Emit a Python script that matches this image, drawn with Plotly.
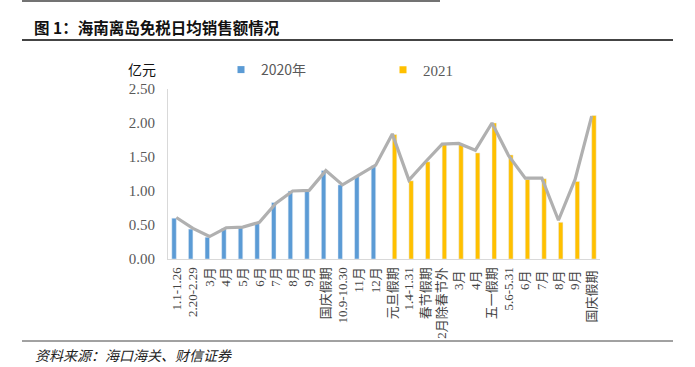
import plotly.graph_objects as go

categories = ["1.1-1.26", "2.20-2.29", "3月", "4月", "5月", "6月", "7月", "8月", "9月",
              "国庆假期", "10.9-10.30", "11月", "12月",
              "元旦假期", "1.4-1.31", "春节假期", "2月除春节外", "3月 ", "4月 ", "五一假期",
              "5.6-5.31", "6月 ", "7月 ", "8月 ", "9月 ", "国庆假期 "]
values_2020 = [0.60, 0.44, 0.32, 0.45, 0.47, 0.54, 0.83, 1.00, 1.00, 1.30, 1.09, 1.22, 1.37]
values_2021 = [1.83, 1.15, 1.43, 1.69, 1.69, 1.56, 2.00, 1.53, 1.17, 1.18, 0.54, 1.14, 2.11]
line_values = [0.61, 0.45, 0.33, 0.46, 0.47, 0.54, 0.82, 1.00, 1.01, 1.30, 1.09, 1.23, 1.38,
               1.84, 1.16, 1.43, 1.69, 1.70, 1.60, 2.00, 1.52, 1.19, 1.19, 0.57, 1.17, 2.10]

n20 = len(values_2020)
y20 = values_2020 + [None] * (len(categories) - n20)
y21 = [None] * n20 + values_2021

W, H = 695, 367
L, R, T, B = 168, 600, 89, 259
pw, ph = R - L, B - T
def px(x): return (x - L) / pw
def py(y): return (B - y) / ph

blue = "#5B9BD5"
gold = "#FFC000"
serif = "Liberation Serif, Noto Sans CJK SC, serif"
cjk = "Noto Sans CJK SC, sans-serif"

fig = go.Figure()
fig.add_trace(go.Bar(x=categories, y=y20, marker_color=blue, showlegend=False, name="2020年"))
fig.add_trace(go.Bar(x=categories, y=y21, marker_color=gold, showlegend=False, name="2021"))
fig.add_trace(go.Scatter(x=categories, y=line_values, mode="lines",
                         line=dict(color="#B0B0B0", width=3.2), showlegend=False))
# legend entries
fig.add_trace(go.Scatter(x=[None], y=[None], mode="markers", name="2020年",
                         marker=dict(symbol="square", size=7, color=blue), legend="legend"))
fig.add_trace(go.Scatter(x=[None], y=[None], mode="markers", name="2021",
                         marker=dict(symbol="square", size=7, color=gold), legend="legend2"))

shapes = [
    dict(type="line", xref="paper", yref="paper", x0=px(22), x1=px(440), y0=py(1), y1=py(1),
         line=dict(color="#444", width=1.5)),
    dict(type="line", xref="paper", yref="paper", x0=px(22), x1=px(673), y0=py(40), y1=py(40),
         line=dict(color="#444", width=2)),
    dict(type="line", xref="paper", yref="paper", x0=px(22), x1=px(673), y0=py(341), y1=py(341),
         line=dict(color="#444", width=1)),
]

annotations = [
    dict(text="<b>图 1：海南离岛免税日均销售额情况</b>", xref="paper", yref="paper",
         x=px(32), y=py(27), xanchor="left", yanchor="middle", showarrow=False,
         font=dict(family=cjk, size=15.5, color="#111")),
    dict(text="<i>资料来源：海口海关、财信证券</i>", xref="paper", yref="paper",
         x=px(33), y=py(355), xanchor="left", yanchor="middle", showarrow=False,
         font=dict(family=cjk, size=14, color="#222")),
    dict(text="亿元", xref="paper", yref="paper", x=px(158), y=py(69),
         xanchor="right", yanchor="middle", showarrow=False,
         font=dict(family=cjk, size=14, color="#111")),
]

fig.update_layout(
    width=W, height=H,
    margin=dict(l=L, r=W - R, t=T, b=H - B, pad=0, autoexpand=False),
    paper_bgcolor="white", plot_bgcolor="white",
    barmode="group", bargap=0.46, bargroupgap=0,
    shapes=shapes, annotations=annotations,
    legend=dict(orientation="h", x=px(221), y=py(70), xanchor="left", yanchor="middle",
                font=dict(family=cjk, size=14, color="#595959"), itemwidth=30,
                bgcolor="rgba(0,0,0,0)"),
    legend2=dict(orientation="h", x=px(383), y=py(70), xanchor="left", yanchor="middle",
                 font=dict(family=serif, size=15, color="#595959"), itemwidth=30,
                 bgcolor="rgba(0,0,0,0)"),
    xaxis=dict(type="category", tickangle=-90, showline=True, linecolor="#D9D9D9",
               linewidth=1, ticks="", showgrid=False, ticklabelstandoff=2,
               tickfont=dict(family=serif, size=13, color="#444")),
    yaxis=dict(range=[0, 2.5], dtick=0.5, tickformat=".2f", showline=True,
               linecolor="#D9D9D9", linewidth=1, showgrid=False, zeroline=False, ticks="",
               ticklabelstandoff=9,
               tickfont=dict(family=serif, size=15, color="#595959")),
)

fig.write_html("out.html", config={"displayModeBar": False},
               post_script="document.body.style.margin='0';document.body.style.overflow='hidden';")
